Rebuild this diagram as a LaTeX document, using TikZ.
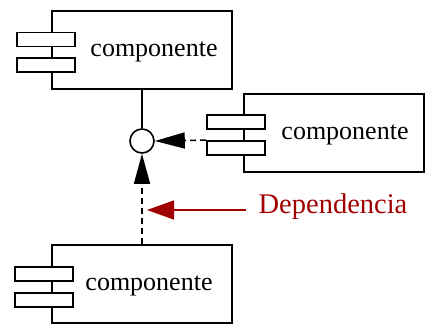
\documentclass[tikz,border=0pt]{standalone}
\usepackage{fontspec}
\setmainfont{Liberation Serif}
\usetikzlibrary{arrows.meta,positioning}

\definecolor{deepred}{RGB}{160,0,0}

\tikzset{
  comp/.style={draw, line width=1.8pt, minimum width=180pt, minimum height=78pt, inner sep=0pt},
  tab/.style={draw, fill=white, line width=1.8pt, minimum width=58pt, minimum height=14pt, inner sep=0pt},
  lbl/.style={font=\fontsize{26}{30}\selectfont, inner sep=0pt},
  dep/.style={line width=1.6pt, dash pattern=on 6pt off 4pt, -{Triangle[length=30pt,width=16pt]}},
  hint/.style={line width=1.4pt, deepred, -{Triangle[length=27pt,width=19pt]}},
}

\begin{document}
\begin{tikzpicture}[x=1pt,y=-1pt]
  \useasboundingbox (0,0) rectangle (433,327);
  % the three components
  \node[comp] (top) at (142,50) {};
  \node[comp] (right) at (334,133) {};
  \node[comp] (bot) at (142,284) {};
  \node[tab] (t1) at ([xshift=-5pt,yshift=10.5pt]top.west) {};
  \node[tab] (t2) at ([xshift=-5pt,yshift=-15pt]top.west) {};
  \node[tab] (r1) at ([xshift=-7pt,yshift=11pt]right.west) {};
  \node[tab] (r2) at ([xshift=-7pt,yshift=-15pt]right.west) {};
  \node[tab] (b1) at ([xshift=-7pt,yshift=10pt]bot.west) {};
  \node[tab] (b2) at ([xshift=-7pt,yshift=-16pt]bot.west) {};
  \node[lbl] (ttop) at ([xshift=12pt,yshift=-2pt]top.center) {componente};
  \node[lbl] (tright) at ([xshift=11pt,yshift=-2pt]right.center) {componente};
  \node[lbl] (tbot) at ([xshift=7pt,yshift=-2pt]bot.center) {componente};
  % interface
  \node[circle, draw, fill=white, line width=1.6pt, minimum size=24pt, inner sep=0pt] (circ) at (142,141) {};
  \draw[line width=1.8pt] (top.south -| circ) -- (circ.north);
  \draw[dep] (r2.north west) -- (circ.east);
  \draw[dep] (bot.north -| circ) -- (circ.south);
  % label
  \node[lbl, font=\fontsize{28.5}{32}\selectfont, text=deepred] (deptext) at (333,207) {Dependencia};
  \draw[hint] ([xshift=-12pt,yshift=-3pt]deptext.west) -- ([xshift=5pt,yshift=-3pt]deptext.west -| circ);
\end{tikzpicture}
\end{document}
